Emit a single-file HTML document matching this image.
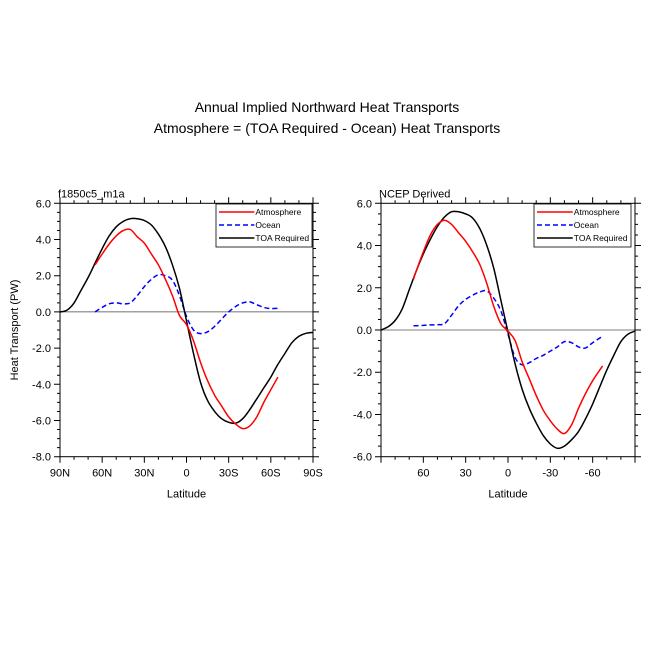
<!DOCTYPE html>
<html><head><meta charset="utf-8"><style>
body{margin:0;background:#fff;}
svg text{font-family:"Liberation Sans",Arial,sans-serif;}
</style></head><body>
<svg id="c" width="654" height="656" viewBox="0 0 654 656" xmlns="http://www.w3.org/2000/svg">
<text x="327" y="112" text-anchor="middle" font-size="14">Annual Implied Northward Heat Transports</text>
<text x="327" y="133" text-anchor="middle" font-size="14">Atmosphere = (TOA Required - Ocean) Heat Transports</text>
</svg>
<script>
// Left panel data (f1850c5_m1a)
const L_toaLat=[90,85,80,75,70,65,60,55,50,45,40,35,30,25,20,15,10,5,0,-5,-10,-15,-20,-25,-30,-35,-40,-45,-50,-55,-60,-65,-70,-75,-80,-85,-90];
const L_toaVal=[0,0.1,0.5,1.2,1.9,2.7,3.5,4.2,4.7,5.0,5.15,5.15,5.05,4.8,4.3,3.6,2.6,1.3,-0.5,-2.3,-3.9,-4.9,-5.5,-5.9,-6.1,-6.15,-5.9,-5.4,-4.8,-4.2,-3.6,-2.9,-2.3,-1.7,-1.35,-1.18,-1.13];
const L_atmLat=[65,60,55,50,45,40,35,30,25,20,15,10,5,0,-5,-10,-15,-20,-25,-30,-35,-40,-45,-50,-55,-60,-65];
const L_atmVal=[2.6,3.2,3.75,4.2,4.5,4.55,4.15,3.8,3.2,2.6,1.8,0.9,-0.2,-0.7,-1.6,-2.8,-3.8,-4.6,-5.2,-5.8,-6.2,-6.45,-6.3,-5.8,-5.0,-4.3,-3.6];
const L_ocnLat=[65,60,55,50,45,40,35,30,25,20,15,10,5,0,-5,-10,-15,-20,-25,-30,-35,-40,-45,-50,-55,-60,-65];
const L_ocnVal=[0,0.25,0.45,0.5,0.45,0.5,0.9,1.4,1.8,2.05,2.0,1.75,0.9,-0.25,-1.0,-1.2,-1.1,-0.8,-0.4,0,0.3,0.5,0.55,0.4,0.25,0.18,0.2];
// Right panel data (NCEP Derived)
const R_toaLat=[90,85,80,75,70,65,60,55,50,45,40,35,30,25,20,15,10,5,0,-5,-10,-15,-20,-25,-30,-35,-40,-45,-50,-55,-60,-65,-70,-75,-80,-85,-90];
const R_toaVal=[0,0.15,0.45,1.0,1.9,2.8,3.6,4.3,4.9,5.35,5.6,5.6,5.5,5.3,4.8,4.0,2.9,1.4,-0.1,-1.6,-2.8,-3.7,-4.4,-5.0,-5.4,-5.6,-5.5,-5.2,-4.8,-4.2,-3.5,-2.7,-1.9,-1.2,-0.55,-0.2,-0.05];
const R_atmLat=[67,65,60,55,50,45,40,35,30,25,20,15,10,5,0,-5,-10,-15,-20,-25,-30,-35,-40,-45,-50,-55,-60,-65,-67];
const R_atmVal=[2.4,2.8,3.7,4.5,5.0,5.2,5.0,4.6,4.2,3.7,3.1,2.2,1.1,0.3,-0.05,-0.5,-1.5,-2.3,-3.1,-3.8,-4.3,-4.7,-4.9,-4.5,-3.7,-3.0,-2.4,-1.9,-1.7];
const R_ocnLat=[67,60,55,50,45,40,35,30,25,20,15,10,5,0,-5,-10,-15,-20,-25,-30,-35,-40,-45,-50,-55,-60,-67];
const R_ocnVal=[0.2,0.22,0.24,0.25,0.3,0.7,1.15,1.45,1.65,1.8,1.85,1.5,0.9,-0.2,-1.3,-1.65,-1.55,-1.35,-1.2,-1.0,-0.8,-0.55,-0.6,-0.8,-0.85,-0.6,-0.3];
const L_yTicks=[6,4,2,0,-2,-4,-6,-8];
const R_yTicks=[6,4,2,0,-2,-4,-6];
const L_xTicks=[90,60,30,0,-30,-60,-90];
const L_xLabels=["90N","60N","30N","0","30S","60S","90S"];
const R_xTicks=[60,30,0,-30,-60];
const R_xLabels=["60","30","0","-30","-60"];

const NS="http://www.w3.org/2000/svg";
const svg=document.getElementById('c');
function mk(tag,attrs,parent){const e=document.createElementNS(NS,tag);for(const k in attrs)e.setAttribute(k,attrs[k]);(parent||svg).appendChild(e);return e;}
function smooth(pts){let d=`M${pts[0][0].toFixed(1)},${pts[0][1].toFixed(1)}`;
 for(let i=0;i<pts.length-1;i++){const p0=pts[i-1]||pts[i],p1=pts[i],p2=pts[i+1],p3=pts[i+2]||p2;
  const c1=[p1[0]+(p2[0]-p0[0])/6,p1[1]+(p2[1]-p0[1])/6],c2=[p2[0]-(p3[0]-p1[0])/6,p2[1]-(p3[1]-p1[1])/6];
  d+=`C${c1[0].toFixed(1)},${c1[1].toFixed(1)} ${c2[0].toFixed(1)},${c2[1].toFixed(1)} ${p2[0].toFixed(1)},${p2[1].toFixed(1)}`;}
 return d;}
function panel(o){
 const x0=o.x0,x1=o.x1,y0=203.3,y1=456.7;
 const sx=lat=>x0+(90-lat)/180*(x1-x0);
 const sy=v=>y0+(o.ymax-v)/(o.ymax-o.ymin)*(y1-y0);
 const g=mk('g',{});
 
 
 // zero line
 const z=mk('line',{x1:x0,x2:x1,y1:sy(0),y2:sy(0),stroke:o.zeroColor,'stroke-width':o.zeroW},g);
 
 
 // ticks
 let tk='';
 for(let v=o.ymin;v<=o.ymax+1e-6;v+=0.5){const major=Math.abs(v/2-Math.round(v/2))<1e-6;const l=major?6:3;const y=sy(v);
  tk+=`M${x0},${y}h${-l}M${x1},${y}h${l}`;}
 for(let lat=-90;lat<=90;lat+=10){const major=lat%30===0;const l=major?6:3;const x=sx(lat);
  tk+=`M${x},${y1}v${l}M${x},${y0}v${-l}`;}
 const t=mk('path',{d:tk,stroke:'#000','stroke-width':1,fill:'none'},g);
 
 
 o.yTicks.forEach(v=>{const e=mk('text',{x:x0-9,y:sy(v)+4,'text-anchor':'end','font-size':11},g);e.textContent=v.toFixed(1);
  
  });
 o.xTicks.forEach((v,i)=>{const e=mk('text',{x:sx(v),y:y1+20,'text-anchor':'middle','font-size':11},g);e.textContent=o.xLabels[i];
  
  });
 const xt=mk('text',{x:(x0+x1)/2,y:y1+41,'text-anchor':'middle','font-size':11},g);xt.textContent='Latitude';
 
 
 const st=mk('text',{x:x0-2,y:y0-6,'font-size':11},g);st.textContent=o.title;
 
 
 const series=[[o.ocnLat,o.ocnVal,'#0000ff','5,3','ocean-line'],[o.toaLat,o.toaVal,'#000',null,'toa-required-line'],[o.atmLat,o.atmVal,'#ff0000',null,'atmosphere-line']];
 series.forEach(s=>{const pts=s[0].map((la,i)=>[sx(la),sy(s[1][i])]);
  const a={d:smooth(pts),stroke:s[2],'stroke-width':1.5,fill:'none'};if(s[3])a['stroke-dasharray']=s[3];
  const p=mk('path',a,g);
  
  });
 const b=mk('rect',{x:x0,y:y0,width:x1-x0,height:y1-y0,fill:'none',stroke:'#000','stroke-width':1},g);
 
 
 // legend
 const lx=o.legX,lw=o.legW,ly=204;
 const lg=mk('g',{},g);
 
 
 mk('rect',{x:lx,y:ly,width:lw,height:43,fill:'#fff',stroke:'#000','stroke-width':0.8},lg);
 [['Atmosphere','#ff0000',null],['Ocean','#0000ff','5,3'],['TOA Required','#000',null]].forEach((e,i)=>{
  const yy=ly+8+i*13;
  const la={x1:lx+3,x2:lx+lw*0.4,y1:yy,y2:yy,stroke:e[1],'stroke-width':1.5};if(e[2])la['stroke-dasharray']=e[2];
  const ln=mk('line',la,lg);
  
  
  const tx=mk('text',{x:lx+lw*0.4+1,y:yy+3,'font-size':8.5},lg);tx.textContent=e[0];
  
  });
}
panel({name:'left-panel',x0:60,x1:313,ymin:-8,ymax:6,zeroColor:'#444',zeroW:0.8,yTicks:L_yTicks,xTicks:L_xTicks,xLabels:L_xLabels,title:'f1850c5_m1a',
 toaLat:L_toaLat,toaVal:L_toaVal,atmLat:L_atmLat,atmVal:L_atmVal,ocnLat:L_ocnLat,ocnVal:L_ocnVal,legX:216,legW:96});
panel({name:'right-panel',x0:381,x1:635,ymin:-6,ymax:6,zeroColor:'#aaa',zeroW:1.6,yTicks:R_yTicks,xTicks:R_xTicks,xLabels:R_xLabels,title:'NCEP Derived',
 toaLat:R_toaLat,toaVal:R_toaVal,atmLat:R_atmLat,atmVal:R_atmVal,ocnLat:R_ocnLat,ocnVal:R_ocnVal,legX:534,legW:97});
const yl=mk('text',{x:0,y:0,'text-anchor':'middle','font-size':11,transform:'translate(18,330) rotate(-90)'});
yl.textContent='Heat Transport (PW)';


</script>
</body></html>
